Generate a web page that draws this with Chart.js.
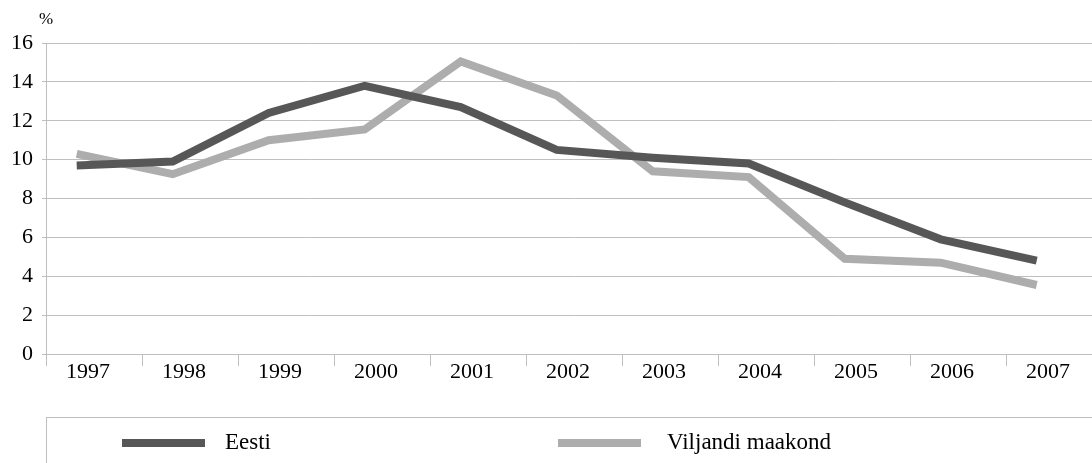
<!DOCTYPE html>
<html>
<head>
<meta charset="utf-8">
<script src="https://cdn.jsdelivr.net/npm/chart.js@4"></script>
<style>
  html, body { margin: 0; padding: 0; background: #fff; overflow: hidden; }
  #wrap { width: 1106px; height: 463px; }
</style>
</head>
<body>
<div id="wrap"><canvas id="chart"></canvas></div>
<script>
const years = ["1997", "1998", "1999", "2000", "2001", "2002", "2003", "2004", "2005", "2006", "2007"];
const eesti = [9.7, 9.9, 12.4, 13.8, 12.7, 10.5, 10.1, 9.8, 7.8, 5.9, 4.8];
const viljandi = [10.3, 9.25, 11.0, 11.55, 15.05, 13.3, 9.4, 9.1, 4.9, 4.7, 3.55];
const yTicks = [0, 2, 4, 6, 8, 10, 12, 14, 16];

const serif = "'Liberation Serif', 'DejaVu Serif', serif";
const gridCol = "#bfbfbf";

const toPoints = arr => arr.map((v, i) => ({ x: i, y: v }));

// legend + "%" label drawn by hand to match the boxed legend
const extras = {
  id: "extras",
  afterDraw(chart) {
    const ctx = chart.ctx;
    ctx.save();
    ctx.fillStyle = "#000";
    ctx.font = "17px " + serif;
    ctx.textAlign = "left";
    ctx.textBaseline = "middle";
    ctx.fillText("%", 39, 20);

    ctx.strokeStyle = gridCol;
    ctx.lineWidth = 1;
    ctx.strokeRect(46.5, 417.5, 1200, 100);

    const items = [
      { x: 122, tx: 225, ds: chart.data.datasets[0] },
      { x: 558, tx: 667, ds: chart.data.datasets[1] }
    ];
    ctx.font = "23px " + serif;
    items.forEach(it => {
      ctx.fillStyle = it.ds.borderColor;
      ctx.fillRect(it.x, 439, 83, 8);
      ctx.fillStyle = "#000";
      ctx.fillText(it.ds.label, it.tx, 443);
    });
    ctx.restore();
  }
};

new Chart(document.getElementById("chart"), {
  type: "line",
  data: {
    labels: years,
    datasets: [
      {
        label: "Eesti",
        data: toPoints(eesti),
        xAxisID: "x2",
        borderColor: "#575757",
        backgroundColor: "#575757",
        borderWidth: 8,
        pointRadius: 0,
        tension: 0,
        fill: false
      },
      {
        label: "Viljandi maakond",
        data: toPoints(viljandi),
        xAxisID: "x2",
        borderColor: "#adadad",
        backgroundColor: "#adadad",
        borderWidth: 8,
        pointRadius: 0,
        tension: 0,
        fill: false
      }
    ]
  },
  options: {
    responsive: true,
    maintainAspectRatio: false,
    animation: false,
    layout: { padding: { top: 43, right: 4, bottom: 59, left: 0 } },
    plugins: { legend: { display: false }, tooltip: { enabled: false } },
    scales: {
      x: {
        type: "category",
        offset: true,
        grid: { offset: true, drawOnChartArea: false, drawTicks: true, tickLength: 12, color: gridCol },
        border: { color: gridCol },
        ticks: { color: "#000", font: { family: serif, size: 22 }, padding: -7, labelOffset: -6, maxRotation: 0 },
        afterFit(scale) { scale.height = 50; }
      },
      x2: {
        type: "linear",
        display: false,
        min: -0.32,
        max: 10.68
      },
      y: {
        min: 0,
        max: 16,
        afterBuildTicks(scale) { scale.ticks = yTicks.map(v => ({ value: v })); },
        grid: { color: gridCol, tickLength: 4 },
        border: { color: gridCol },
        ticks: { color: "#000", font: { family: serif, size: 22 }, padding: 9 },
        afterFit(scale) { scale.width = 46; }
      }
    }
  },
  plugins: [extras]
});
</script>
</body>
</html>
